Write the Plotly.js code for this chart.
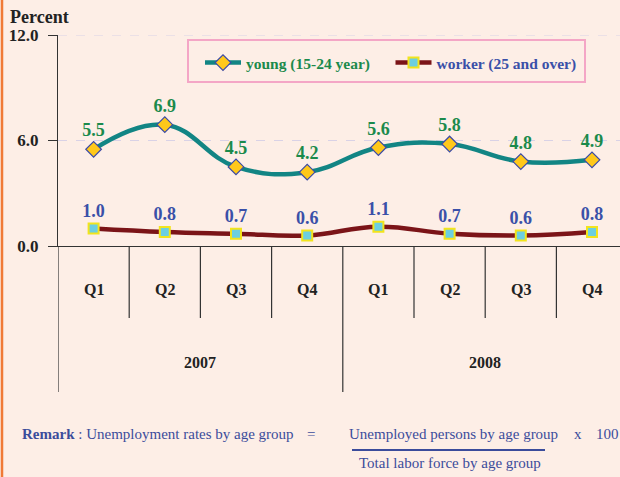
<!DOCTYPE html>
<html>
<head>
<meta charset="utf-8">
<script src="https://cdn.plot.ly/plotly-3.0.1.min.js"></script>
<style>html,body{margin:0;padding:0;background:#fdeee6;}</style>
</head>
<body>
<div id="chart" style="width:620px;height:477px;"></div>
<script>
// ---- data ----
var quarters = ["Q1","Q2","Q3","Q4","Q1","Q2","Q3","Q4"];
var years = ["2007","2008"];
var quartersPerYear = 4;
var young = [5.5, 6.9, 4.5, 4.2, 5.6, 5.8, 4.8, 4.9];
var worker = [1.0, 0.8, 0.7, 0.6, 1.1, 0.7, 0.6, 0.8];
var youngName = "young (15-24 year)";
var workerName = "worker (25 and over)";
var yTicks = [0, 6, 12];
var yTickText = ["0.0", "6.0", "12.0"];

// ---- helpers (pixel -> paper) ----
var W = 620, H = 477, ML = 58, MR = 0, MT = 35, MB = 231;
var PW = W - ML - MR, PH = H - MT - MB;
function px(p){ return (p - ML) / PW; }
function py(p){ return (MT + PH - p) / PH; }

var xs = quarters.map(function(_, i){ return i; });
var serif = "Liberation Serif, Times New Roman, serif";

var traces = [
  {
    x: xs, y: young, name: '<span style="color:#1b8a4c">' + youngName + '</span>&nbsp;&nbsp;&nbsp;&nbsp;',
    type: 'scatter', mode: 'lines+markers+text',
    line: {color: '#128584', width: 4.5, shape: 'spline', smoothing: 1.2},
    marker: {symbol: 'diamond', size: 12, color: '#ffc81a', line: {color: '#3a4aa8', width: 1.2}},
    text: young.map(function(v){ return v.toFixed(1); }),
    textposition: 'top center',
    textfont: {family: serif, size: 18, color: '#1b8a4c', weight: 'bold'},
    cliponaxis: false, hoverinfo: 'skip'
  },
  {
    x: xs, y: worker, name: '<span style="color:#3a50a8">' + workerName + '</span>',
    type: 'scatter', mode: 'lines+markers+text',
    line: {color: '#7b1418', width: 4.5, shape: 'spline', smoothing: 1.2},
    marker: {symbol: 'square', size: 10, color: '#6ccfe0', line: {color: '#f2e41c', width: 2}},
    text: worker.map(function(v){ return v.toFixed(1); }),
    textposition: 'top center',
    textfont: {family: serif, size: 18, color: '#3a50a8', weight: 'bold'},
    cliponaxis: false, hoverinfo: 'skip'
  }
];

var shapes = [];
var annotations = [];
// top dashed gridline at max tick
shapes.push({type: 'line', xref: 'paper', yref: 'y', x0: 0, x1: 1, y0: yTicks[yTicks.length - 1], y1: yTicks[yTicks.length - 1],
  line: {color: '#d9d2e6', width: 1, dash: 'dash'}});
// quarter dividers & year dividers
for (var i = 0; i <= quarters.length - 1; i++) {
  var isYear = (i % quartersPerYear === 0);
  shapes.push({type: 'line', xref: 'x', yref: 'paper', x0: i - 0.5, x1: i - 0.5,
    y0: 0, y1: isYear ? py(392) : py(318), line: {color: '#333', width: 1.2}});
}
// quarter labels
quarters.forEach(function(q, i){
  annotations.push({xref: 'x', yref: 'paper', x: i, y: py(300), text: q, showarrow: false,
    font: {family: serif, size: 16, color: '#222', weight: 'bold'}});
});
// year labels
years.forEach(function(yr, j){
  annotations.push({xref: 'x', yref: 'paper', x: j * quartersPerYear + (quartersPerYear - 1) / 2,
    y: py(373), text: yr, showarrow: false,
    font: {family: serif, size: 16, color: '#222', weight: 'bold'}});
});
// left orange border
shapes.push({type: 'line', xref: 'paper', yref: 'paper', x0: px(2), x1: px(2), y0: py(477), y1: py(0),
  line: {color: '#f07a36', width: 2.5}});
// legend frame
shapes.push({type: 'rect', xref: 'paper', yref: 'paper', x0: px(188), x1: px(585), y0: py(82), y1: py(40),
  line: {color: '#f4a6c6', width: 2}, fillcolor: 'rgba(0,0,0,0)'});
// title
annotations.push({xref: 'paper', yref: 'paper', x: px(8), y: py(17), xanchor: 'left', yanchor: 'middle',
  text: 'Percent', showarrow: false, font: {family: serif, size: 18, color: '#222', weight: 'bold'}});
// remark
var remFont = {family: serif, size: 15, color: '#3b4c9b'};
annotations.push({xref: 'paper', yref: 'paper', x: px(20), y: py(434), xanchor: 'left', yanchor: 'middle',
  text: '<b>Remark</b> : Unemployment rates by age group', showarrow: false, font: remFont});
annotations.push({xref: 'paper', yref: 'paper', x: px(311), y: py(434), xanchor: 'center', yanchor: 'middle',
  text: '=', showarrow: false, font: remFont});
annotations.push({xref: 'paper', yref: 'paper', x: px(347), y: py(434), xanchor: 'left', yanchor: 'middle',
  text: 'Unemployed persons by age group', showarrow: false, font: remFont});
annotations.push({xref: 'paper', yref: 'paper', x: px(578), y: py(434), xanchor: 'center', yanchor: 'middle',
  text: 'x', showarrow: false, font: remFont});
annotations.push({xref: 'paper', yref: 'paper', x: px(594), y: py(434), xanchor: 'left', yanchor: 'middle',
  text: '100', showarrow: false, font: remFont});
annotations.push({xref: 'paper', yref: 'paper', x: px(357), y: py(463), xanchor: 'left', yanchor: 'middle',
  text: 'Total labor force by age group', showarrow: false, font: remFont});
shapes.push({type: 'line', xref: 'paper', yref: 'paper', x0: px(352), x1: px(545), y0: py(450), y1: py(450),
  line: {color: '#3b4c9b', width: 2}});

var layout = {
  width: W, height: H,
  margin: {l: ML, r: MR, t: MT, b: MB, pad: 0},
  paper_bgcolor: '#fdeee6', plot_bgcolor: '#fdeee6',
  showlegend: true,
  legend: {orientation: 'h', x: px(200), y: py(46), xanchor: 'left', yanchor: 'top',
    bgcolor: 'rgba(0,0,0,0)', borderwidth: 0,
    font: {family: serif, size: 15.5, weight: 'bold'}, itemwidth: 36, traceorder: 'normal'},
  xaxis: {range: [-0.5, -0.5 + PW / 71.2], showticklabels: false, showgrid: false, zeroline: false,
    showline: true, linecolor: '#333', linewidth: 1.2, ticks: '', fixedrange: true},
  yaxis: {range: [0, 12], tickvals: yTicks, ticktext: yTickText, showgrid: true, griddash: 'dash',
    gridcolor: '#d9d2e6', gridwidth: 1, zeroline: false, showline: true, linecolor: '#333', linewidth: 1.2,
    ticks: 'outside', ticklen: 9, tickcolor: '#333', ticklabelstandoff: 6,
    tickfont: {family: serif, size: 17, color: '#222', weight: 'bold'}, fixedrange: true},
  shapes: shapes,
  annotations: annotations
};

Plotly.newPlot('chart', traces, layout, {displayModeBar: false, staticPlot: true});
</script>
</body>
</html>
